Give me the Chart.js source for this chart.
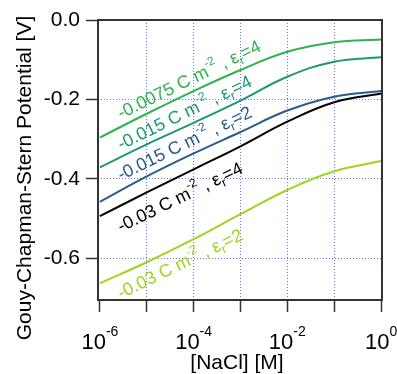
<!DOCTYPE html>
<html><head><meta charset="utf-8">
<script src="https://cdn.jsdelivr.net/npm/chart.js@4.4.1/dist/chart.umd.min.js"></script>
<style>html,body{margin:0;padding:0;background:#fff;}canvas{display:block;}</style>
</head><body>
<canvas id="c" width="397" height="374"></canvas>
<script>
// ---- data ----
const concentrations = [1e-6, 1e-5, 1e-4, 1e-3, 1e-2, 1e-1, 1];
const psi_0075_eps4 = [-0.296, -0.236, -0.179, -0.126, -0.080, -0.056, -0.049];
const psi_015_eps4  = [-0.371, -0.313, -0.259, -0.203, -0.143, -0.105, -0.094];
const psi_015_eps2  = [-0.458, -0.394, -0.336, -0.282, -0.228, -0.193, -0.179];
const psi_03_eps4   = [-0.494, -0.434, -0.376, -0.318, -0.256, -0.207, -0.185];
const psi_03_eps2   = [-0.663, -0.610, -0.552, -0.489, -0.428, -0.381, -0.355];
const chargeLabels = ['-0.0075', '-0.015', '-0.015', '-0.03', '-0.03'];
const epsLabels = ['4', '4', '2', '4', '2'];
const xTickValues = [1e-6, 1e-5, 1e-4, 1e-3, 1e-2, 1e-1, 1];
const xLabelExponents = [-6, -4, -2, 0];
const yTickValues = [-0.6, -0.4, -0.2, 0.0];
const xTitle = '[NaCl] [M]';
const yTitle = 'Gouy-Chapman-Stern Potential [V]';

// ---- styling ----
const FONT = '"Liberation Sans", Arial, sans-serif';
const colors = ['#2cb54f', '#1c9a6e', '#2b5b8a', '#000000', '#9fd41f'];
const gridBlue = '#6f6fff';
const axisGray = '#333333';
const series = [psi_0075_eps4, psi_015_eps4, psi_015_eps2, psi_03_eps4, psi_03_eps2];
// label anchors in data coordinates (log10 x, potential y)
const labelLogX = -5.55;
const labelY = [-0.250, -0.328, -0.405, -0.535, -0.703];

const datasets = series.map((vals, i) => ({
  label: chargeLabels[i] + ' C m-2, er=' + epsLabels[i],
  data: concentrations.map((c, j) => ({x: c, y: vals[j]})),
  borderColor: colors[i],
  borderWidth: 2,
  pointRadius: 0,
  fill: false,
  tension: 0.4
}));

const overlay = {
  id: 'overlay',
  afterDraw(chart) {
    const {ctx, chartArea: a, scales: {x, y}} = chart;
    ctx.save();
    // frame
    ctx.strokeStyle = axisGray; ctx.lineWidth = 2;
    ctx.strokeRect(a.left, a.top, a.right - a.left, a.bottom - a.top);
    // x tick labels with superscript exponents
    ctx.fillStyle = '#000'; ctx.textBaseline = 'alphabetic'; ctx.textAlign = 'left';
    xLabelExponents.forEach(e => {
      const px = x.getPixelForValue(Math.pow(10, e));
      ctx.font = '22px ' + FONT; const wb = ctx.measureText('10').width;
      ctx.font = '14px ' + FONT; const sup = String(e); const ws = ctx.measureText(sup).width;
      const left = px - (wb + ws) / 2;
      ctx.font = '22px ' + FONT; ctx.fillText('10', left, 349);
      ctx.font = '14px ' + FONT; ctx.fillText(sup, left + wb, 336);
    });
    // axis titles
    ctx.font = '21px ' + FONT; ctx.textAlign = 'center';
    ctx.fillText(xTitle, (a.left + a.right) / 2 - 3, 369);
    ctx.save();
    ctx.translate(31, 178); ctx.rotate(-Math.PI / 2);
    ctx.fillText(yTitle, 0, 0);
    ctx.restore();
    // curve labels
    ctx.textAlign = 'left';
    chargeLabels.forEach((q, i) => {
      const px = x.getPixelForValue(Math.pow(10, labelLogX));
      const py = y.getPixelForValue(labelY[i]);
      ctx.save();
      ctx.translate(px, py); ctx.rotate(-26 * Math.PI / 180);
      ctx.fillStyle = colors[i];
      let cx = 0;
      const segs = [[q + ' C m', 18, 0], ['-2', 12, -9], [' , \u03b5', 18, 0], ['r', 12, 4], ['=' + epsLabels[i], 18, 0]];
      segs.forEach(([t, f, dy]) => {
        ctx.font = f + 'px ' + FONT;
        ctx.fillText(t, cx, dy);
        cx += ctx.measureText(t).width;
      });
      ctx.restore();
    });
    ctx.restore();
  }
};

new Chart(document.getElementById('c'), {
  type: 'line',
  data: {datasets},
  plugins: [overlay],
  options: {
    responsive: false,
    animation: false,
    layout: {padding: {left: 0, top: 20, right: 15, bottom: 0}},
    plugins: {legend: {display: false}, tooltip: {enabled: false}},
    scales: {
      x: {
        type: 'logarithmic',
        min: Math.pow(10, -6.04),
        max: Math.pow(10, 0.02),
        afterBuildTicks: s => { s.ticks = xTickValues.map(v => ({value: v})); },
        afterFit: s => { s.height = 74; },
        ticks: {display: false},
        border: {display: false, dash: [1, 2]},
        grid: {
          color: c => (c.tick && (c.tick.value === xTickValues[0] || c.tick.value === xTickValues[xTickValues.length - 1])) ? 'rgba(0,0,0,0)' : gridBlue,
          lineWidth: 1,
          tickLength: 12,
          tickColor: axisGray,
          tickWidth: 1.5
        }
      },
      y: {
        type: 'linear',
        min: -0.705,
        max: 0,
        afterBuildTicks: s => { s.ticks = yTickValues.map(v => ({value: v})); },
        afterFit: s => { s.width = 98; },
        ticks: {
          callback: v => v.toFixed(1),
          font: {family: FONT, size: 21},
          color: '#000',
          padding: 6
        },
        border: {display: false, dash: [1, 2]},
        grid: {
          color: c => (c.tick && c.tick.value === 0) ? 'rgba(0,0,0,0)' : gridBlue,
          lineWidth: 1,
          tickLength: 12,
          tickColor: axisGray,
          tickWidth: 1.5
        }
      }
    }
  }
});
</script>
</body></html>
